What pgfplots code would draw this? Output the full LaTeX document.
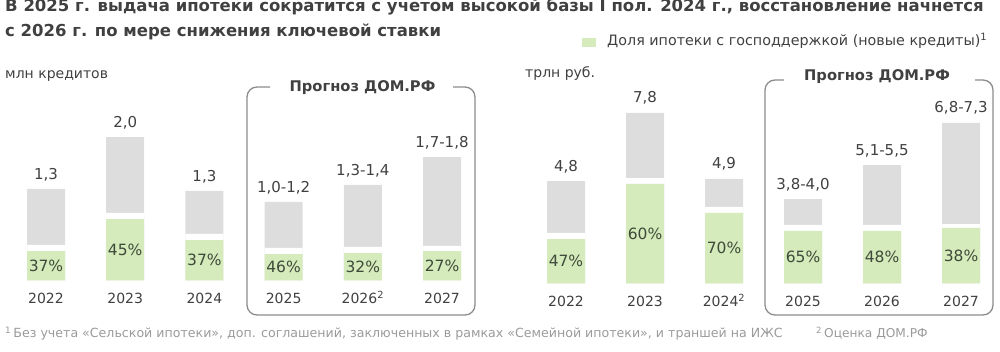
\documentclass[border=0pt]{standalone}
\usepackage{fontspec}
\setmainfont{DejaVu Sans}
\usepackage{pgfplots}
\pgfplotsset{compat=1.18}
\definecolor{bargray}{HTML}{DDDDDD}
\definecolor{bargreen}{HTML}{D5EBBB}
\definecolor{txt}{HTML}{404040}
\definecolor{pct}{HTML}{3E4A3A}
\definecolor{foot}{HTML}{9A9A9A}
\definecolor{boxc}{HTML}{8C8C8C}
\newcommand{\valfont}{\fontsize{14}{16}\selectfont}
\pgfplotsset{
  panel/.style={
    x=79.2pt, enlargelimits=false, xmin=-0.5, xmax=5.5, ymin=0,
    clip=false, axis line style={draw=none}, major tick length=0pt,
    ytick=\empty, xtick={0,...,5},
    xticklabel style={anchor=base, yshift=-23.5pt, font=\valfont, text=txt, inner sep=0pt},
    anchor=south west,
  },
  bgray/.style={ybar, bar shift=0pt, bar width=38pt, fill=bargray, draw=none},
  bwhite/.style={ybar, bar shift=0pt, bar width=38pt, fill=white, draw=none},
  bgreen/.style={ybar, bar shift=0pt, bar width=38pt, fill=bargreen, draw=none},
  lbl/.style 2 args={draw=none, mark=none, nodes near coords, point meta=explicit symbolic,
    every node near coord/.append style={anchor=base, inner sep=0pt, font=\fontsize{#2}{16}\selectfont, text=#1}},
}
\begin{document}
\begin{tikzpicture}
\useasboundingbox (0pt,0pt) rectangle (1000pt,352pt);
% title
\node[anchor=base west, inner sep=0, text=txt, font=\fontsize{16.5}{18}\selectfont\bfseries] at (5pt,340pt)
  {В 2025 г. выдача ипотеки сократится с учетом высокой базы I пол. 2024 г., восстановление начнется};
\node[anchor=base west, inner sep=0, text=txt, font=\fontsize{16.5}{18}\selectfont\bfseries] at (5pt,315pt)
  {с 2026 г. по мере снижения ключевой ставки};
% legend
\fill[bargreen] (582pt,305pt) rectangle (596pt,314pt);
\node[anchor=base west, inner sep=0, text=txt, font=\fontsize{14.3}{16}\selectfont] at (607pt,306pt)
  {Доля ипотеки с господдержкой (новые кредиты)\textsuperscript{1}};
% units
\node[anchor=base west, inner sep=0, text=txt, font=\fontsize{14}{16}\selectfont] at (5pt,273pt) {млн кредитов};
\node[anchor=base west, inner sep=0, text=txt, font=\fontsize{14}{16}\selectfont] at (525pt,274pt) {трлн руб.};
% forecast boxes
\draw[boxc, line width=1.3pt, rounded corners=10pt] (270pt,265pt) -- (247pt,265pt) -- (247pt,37pt) -- (475pt,37pt) -- (475pt,265pt) -- (453pt,265pt);
\node[anchor=base, inner sep=0, text=txt, font=\fontsize{14.7}{16}\selectfont\bfseries] at (362.5pt,260pt) {Прогноз ДОМ.РФ};
\draw[boxc, line width=1.3pt, rounded corners=10pt] (784pt,272pt) -- (765pt,272pt) -- (765pt,37pt) -- (993pt,37pt) -- (993pt,272pt) -- (975pt,272pt);
\node[anchor=base, inner sep=0, text=txt, font=\fontsize{14.7}{16}\selectfont\bfseries] at (877pt,271pt) {Прогноз ДОМ.РФ};
% footnotes
\node[anchor=base west, inner sep=0, text=foot, font=\fontsize{12.6}{14}\selectfont] at (5pt,14pt)
  {\textsuperscript{1}\,Без учета «Сельской ипотеки», доп. соглашений, заключенных в рамках «Семейной ипотеки», и траншей на ИЖС};
\node[anchor=base west, inner sep=0, text=foot, font=\fontsize{12.2}{14}\selectfont] at (816pt,14pt)
  {\textsuperscript{2}\,Оценка ДОМ.РФ};

% left panel: mln loans
\begin{axis}[panel, y=71pt, ymax=2.2, at={(6.4pt,71.5pt)},
  xticklabels={2022,2023,2024,2025,2026\textsuperscript{2},2027}]
\addplot[bgray] coordinates {(0,1.289) (1,2.021) (2,1.261) (3,1.106) (4,1.345) (5,1.739)};
\addplot[bwhite] coordinates {(0,0.500) (1,0.951) (2,0.655) (3,0.458) (4,0.472) (5,0.486)};
\addplot[bgreen] coordinates {(0,0.415) (1,0.866) (2,0.570) (3,0.373) (4,0.387) (5,0.415)};
\addplot[lbl={txt}{15}] coordinates {(0,1.423)[1,3] (1,2.155)[2,0] (2,1.395)[1,3] (3,1.240)[1,0-1,2] (4,1.479)[1,3-1,4] (5,1.873)[1,7-1,8]};
\addplot[lbl={pct}{15.5}] coordinates {(0,0.130)[37\%] (1,0.356)[45\%] (2,0.208)[37\%] (3,0.109)[46\%] (4,0.116)[32\%] (5,0.130)[27\%]};
\end{axis}

% right panel: trillion rub
\begin{axis}[panel, x=79pt, y=21.7pt, ymax=9, at={(526.5pt,68.5pt)},
  xticklabels={2022,2023,2024\textsuperscript{2},2025,2026,2027}]
\addplot[bgray] coordinates {(0,4.72) (1,7.86) (2,4.82) (3,3.89) (4,5.46) (5,7.40)};
\addplot[bwhite] coordinates {(0,2.33) (1,4.86) (2,3.53) (3,2.70) (4,2.70) (5,2.74)};
\addplot[bgreen] coordinates {(0,2.05) (1,4.59) (2,3.25) (3,2.42) (4,2.42) (5,2.56)};
\addplot[lbl={txt}{15}] coordinates {(0,5.18)[4,8] (1,8.32)[7,8] (2,5.28)[4,9] (3,4.35)[3,8-4,0] (4,5.92)[5,1-5,5] (5,7.86)[6,8-7,3]};
\addplot[lbl={pct}{15.5}] coordinates {(0,0.77)[47\%] (1,2.04)[60\%] (2,1.37)[70\%] (3,0.955)[65\%] (4,0.955)[48\%] (5,1.025)[38\%]};
\end{axis}
\end{tikzpicture}
\end{document}
